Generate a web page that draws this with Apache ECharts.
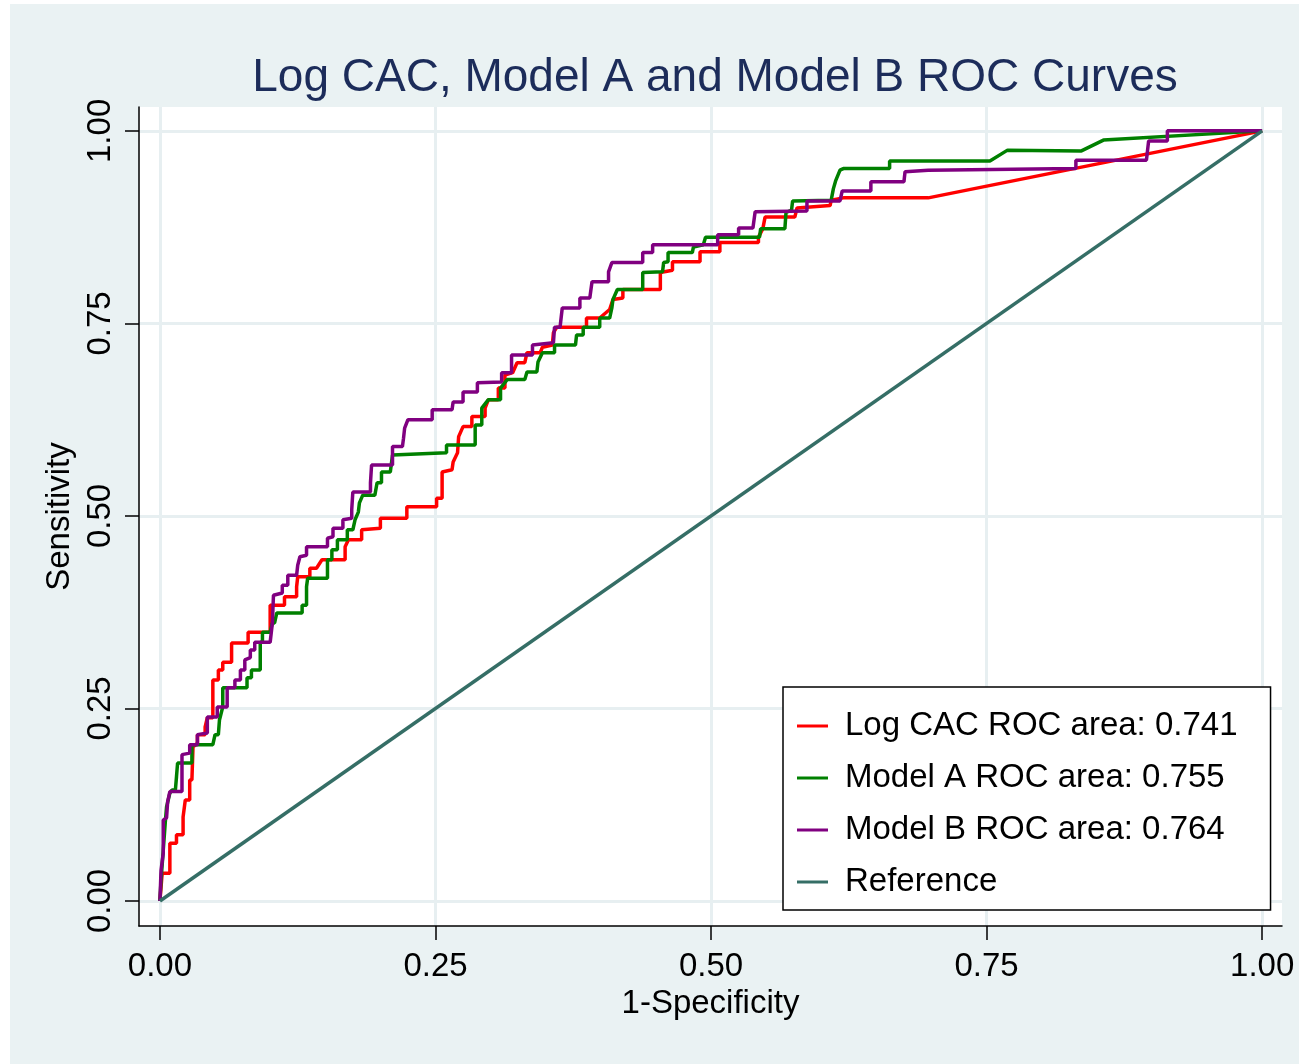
<!DOCTYPE html>
<html>
<head>
<meta charset="utf-8">
<title>Log CAC, Model A and Model B ROC Curves</title>
<script src="https://cdn.jsdelivr.net/npm/echarts@6.0.0/dist/echarts.min.js"></script>
<style>
  html, body { margin: 0; padding: 0; background: #fff; }
  #chart { width: 1299px; height: 1064px; }
</style>
</head>
<body>
<div id="chart"></div>
<script>
// tick positions shared by both axes
const ticks = [0, 0.25, 0.5, 0.75, 1]

// Log CAC ROC curve (1-specificity, sensitivity)
const logCacFpr = [0, .002, .009, .009, .015, .015, .021, .021, .023, .027, .027, .029, .030, .034, .034, .041, .041, .043, .048, .048, .053, .053, .057, .057, .065, .065, .080, .080, .100, .100, .113, .113, .124, .124, .125, .136, .136, .142, .147, .168, .168, .171, .183, .183, .200, .200, .224, .224, .251, .251, .256, .256, .265, .266, .270, .271, .275, .283, .283, .295, .295, .298, .307, .307, .313, .313, .320, .324, .331, .333, .345, .347, .356, .357, .360, .387, .387, .399, .408, .411, .420, .420, .454, .454, .465, .465, .490, .490, .508, .508, .543, .543, .547, .549, .576, .578, .608, .609, .620, .697, 1]
const logCacTpr = [0, .036, .036, .075, .075, .086, .086, .109, .131, .131, .157, .157, .200, .205, .216, .216, .226, .238, .238, .287, .287, .300, .300, .310, .310, .335, .335, .349, .349, .384, .384, .395, .395, .408, .421, .421, .432, .432, .443, .443, .460, .469, .469, .482, .484, .497, .497, .512, .512, .523, .523, .557, .560, .570, .582, .603, .616, .616, .629, .629, .640, .651, .651, .666, .666, .683, .686, .699, .699, .712, .712, .719, .722, .738, .745, .745, .757, .757, .768, .781, .783, .794, .794, .816, .819, .830, .830, .843, .843, .855, .855, .862, .873, .888, .888, .900, .903, .910, .913, .913, 1]

// Model A ROC curve
const modelAFpr = [0, .001, .003, .005, .006, .009, .011, .014, .015, .016, .029, .029, .048, .050, .053, .054, .057, .057, .079, .079, .083, .083, .091, .091, .093, .093, .100, .102, .104, .106, .129, .129, .133, .133, .134, .152, .152, .156, .156, .161, .161, .170, .170, .175, .177, .180, .181, .184, .195, .197, .201, .201, .209, .211, .260, .260, .286, .286, .292, .292, .298, .309, .309, .315, .331, .333, .342, .343, .347, .358, .358, .377, .378, .384, .384, .399, .399, .408, .410, .411, .415, .438, .438, .456, .457, .461, .461, .483, .484, .493, .495, .544, .545, .567, .568, .573, .574, .609, .611, .613, .617, .620, .662, .662, .753, .769, .836, .856, 1]
const modelATpr = [0, .027, .066, .105, .122, .140, .144, .144, .161, .179, .179, .203, .203, .216, .216, .235, .252, .277, .277, .290, .290, .300, .300, .336, .336, .349, .349, .361, .361, .374, .374, .384, .384, .408, .419, .419, .443, .443, .456, .456, .469, .469, .482, .482, .495, .505, .517, .527, .527, .543, .543, .557, .557, .579, .582, .592, .592, .618, .618, .640, .651, .651, .666, .677, .677, .687, .687, .700, .712, .712, .722, .722, .735, .735, .745, .745, .757, .757, .770, .781, .794, .794, .816, .817, .829, .830, .842, .842, .849, .852, .862, .862, .873, .873, .894, .897, .909, .910, .925, .935, .949, .951, .951, .961, .961, .975, .974, .988, 1]

// Model B ROC curve
const modelBFpr = [0, .001, .003, .003, .006, .007, .009, .020, .020, .027, .027, .034, .034, .043, .043, .052, .052, .061, .061, .068, .068, .073, .073, .077, .077, .082, .082, .086, .086, .100, .102, .103, .111, .111, .116, .116, .124, .125, .127, .133, .133, .152, .152, .157, .157, .166, .166, .174, .174, .175, .191, .191, .192, .211, .211, .220, .221, .222, .225, .247, .247, .265, .266, .275, .275, .288, .288, .310, .310, .319, .319, .338, .338, .357, .358, .363, .365, .381, .381, .390, .392, .407, .407, .410, .438, .438, .447, .447, .506, .506, .525, .525, .538, .540, .587, .587, .617, .619, .645, .645, .675, .676, .697, .831, .831, .895, .897, .914, .914, 1]
const modelBTpr = [0, .040, .062, .105, .108, .129, .142, .142, .190, .192, .203, .203, .216, .218, .239, .239, .252, .252, .277, .277, .287, .287, .300, .300, .313, .316, .326, .326, .336, .336, .361, .397, .400, .410, .410, .423, .423, .436, .447, .449, .460, .460, .471, .473, .484, .484, .495, .497, .508, .531, .531, .543, .566, .566, .590, .590, .601, .614, .625, .625, .638, .638, .648, .648, .661, .661, .673, .674, .686, .686, .709, .709, .722, .725, .745, .745, .770, .770, .783, .783, .804, .804, .817, .829, .829, .842, .842, .852, .852, .865, .865, .874, .874, .895, .896, .909, .909, .922, .922, .934, .934, .947, .949, .951, .962, .962, .987, .987, 1, 1]

// chance diagonal
const refFpr = [0, 1]
const refTpr = [0, 1]

const seriesNames = [
  'Log CAC ROC area: 0.741',
  'Model A ROC area: 0.755',
  'Model B ROC area: 0.764',
  'Reference',
]
const seriesColors = ['#ff0000', '#008000', '#800080', '#356e66']

const curves = [
  [logCacFpr, logCacTpr],
  [modelAFpr, modelATpr],
  [modelBFpr, modelBTpr],
  [refFpr, refTpr],
]

const FONT = '"Liberation Sans", Arial, sans-serif'
const GRID_COLOR = '#e7eff1'

const chart = echarts.init(document.getElementById('chart'))

const axisCommon = {
  type: 'value',
  nameLocation: 'middle',
  nameTextStyle: { color: '#000', fontSize: 33, fontFamily: FONT },
  axisLine: { show: true, onZero: false, lineStyle: { color: '#000', width: 1.5 } },
  axisTick: {
    show: true,
    length: 14,
    customValues: ticks,
    lineStyle: { color: '#000', width: 1.5 },
  },
  axisLabel: {
    customValues: ticks,
    color: '#000',
    fontSize: 33,
    fontFamily: FONT,
    formatter: (v) => v.toFixed(2),
  },
  splitLine: { show: true, lineStyle: { color: GRID_COLOR, width: 3 } },
}

chart.setOption({
  animation: false,
  backgroundColor: '#fff',
  graphic: [
    {
      type: 'rect',
      z: -10,
      silent: true,
      shape: { x: 10, y: 4, width: 1289, height: 1060 },
      style: { fill: '#eaf2f3' },
    },
  ],
  title: {
    text: 'Log CAC, Model A and Model B ROC Curves',
    left: 710,
    top: 50,
    textAlign: 'center',
    textStyle: {
      color: '#1c2c5a',
      fontSize: 46,
      fontWeight: 'normal',
      fontFamily: FONT,
    },
  },
  grid: {
    left: 139,
    top: 107,
    width: 1143,
    height: 819,
    show: true,
    backgroundColor: '#fff',
    borderWidth: 0,
  },
  xAxis: {
    ...axisCommon,
    min: -0.019,
    max: 1.018,
    name: '1-Specificity',
    nameGap: 60,
    axisLabel: { ...axisCommon.axisLabel, margin: 24 },
  },
  yAxis: {
    ...axisCommon,
    min: -0.0325,
    max: 1.031,
    name: 'Sensitivity',
    nameGap: 60,
    axisLabel: { ...axisCommon.axisLabel, rotate: 90, margin: 22 },
  },
  legend: {
    orient: 'vertical',
    left: 783,
    top: 687,
    padding: [19, 33, 8, 14],
    itemGap: 12,
    itemWidth: 31,
    itemHeight: 3,
    icon: 'rect',
    backgroundColor: '#fff',
    borderColor: '#000',
    borderWidth: 1.5,
    borderRadius: 0,
    textStyle: {
      color: '#000',
      fontSize: 33,
      fontFamily: FONT,
      lineHeight: 40,
      padding: [0, 0, 0, 12],
    },
    data: seriesNames,
  },
  series: curves.map(([xs, ys], i) => ({
    name: seriesNames[i],
    type: 'line',
    data: xs.map((x, k) => [x, ys[k]]),
    showSymbol: false,
    symbol: 'none',
    lineStyle: { color: seriesColors[i], width: 3.5 },
    itemStyle: { color: seriesColors[i] },
    z: i === 3 ? 3 : 2 + i * 0.1,
  })),
})
</script>
</body>
</html>
